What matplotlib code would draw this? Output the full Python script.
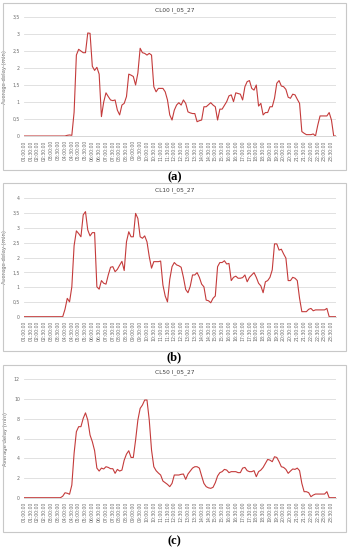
import numpy as np
import matplotlib.pyplot as plt
from matplotlib.patches import Rectangle

# Средняя задержка (мин), шаг 10 минут, с 01:00 до 23:50
cl00 = [0] * 19 + [
    0.02, 0.03, 0.02, 0.7, 2.38, 2.55, 2.5, 2.45, 2.45, 3.03,
    3.02, 2.05, 1.93, 2.02, 1.82, 0.57, 1.0, 1.27, 1.16, 1.06,
    1.04, 1.06, 0.76, 0.62, 0.91, 0.96, 1.16, 1.82, 1.79, 1.75,
    1.5, 1.85, 2.58, 2.45, 2.43, 2.38, 2.43, 2.38, 1.45, 1.3,
    1.4, 1.4, 1.4, 1.3, 1.06, 0.62, 0.47, 0.76, 0.91, 0.98,
    0.91, 1.06, 0.96, 0.71, 0.68, 0.66, 0.66, 0.42, 0.45, 0.47,
    0.86, 0.86, 0.92, 0.98, 0.91, 0.86, 0.47, 0.79, 0.79, 0.9,
    1.01, 1.18, 1.21, 1.01, 1.27, 1.25, 1.23, 1.06, 1.45, 1.6,
    1.63, 1.4, 1.35, 1.5, 0.88, 0.96, 0.62, 0.69, 0.69, 0.86,
    0.86, 1.11, 1.55, 1.63, 1.47, 1.45, 1.37, 1.14, 1.11, 1.23,
    1.21, 1.08, 0.96, 0.13, 0.08, 0.04, 0.04, 0.04, 0.06, 0,
    0.32, 0.59, 0.59, 0.59, 0.59, 0.69, 0.47, 0, 0]

cl10 = [0] * 18 + [
    0.25, 0.62, 0.5, 1.01, 2.4, 2.9, 2.81, 2.7, 3.44, 3.55,
    2.93, 2.73, 2.84, 2.84, 1.01, 0.93, 1.22, 1.13, 1.1, 1.41,
    1.67, 1.69, 1.52, 1.6, 1.74, 1.87, 1.56, 2.53, 2.87, 2.7,
    2.7, 3.49, 3.32, 2.7, 2.65, 2.73, 2.53, 2.03, 1.64, 1.86,
    1.86, 1.86, 1.88, 1.07, 0.7, 0.5, 1.26, 1.69, 1.83, 1.75,
    1.72, 1.67, 1.33, 0.92, 0.81, 1.03, 1.41, 1.41, 1.49, 1.33,
    1.1, 1.01, 0.56, 0.54, 0.47, 0.62, 0.7, 1.69, 1.83, 1.83,
    1.89, 1.78, 1.8, 1.22, 1.33, 1.37, 1.3, 1.3, 1.32, 1.41,
    1.18, 1.33, 1.41, 1.49, 1.33, 1.13, 1.04, 0.81, 1.18, 1.22,
    1.33, 1.58, 2.46, 2.46, 2.25, 2.28, 2.12, 1.98, 1.22, 1.22,
    1.33, 1.3, 1.22, 0.62, 0.17, 0.17, 0.17, 0.25, 0.28, 0.2,
    0.23, 0.23, 0.23, 0.23, 0.23, 0.28, 0, 0, 0, 0]

cl50 = [0] * 17 + [
    0.15, 0.5, 0.45, 0.35, 1.28, 4.5, 6.69, 7.2, 7.2, 8.04,
    8.6, 7.87, 6.35, 5.68, 4.77, 3.0, 2.7, 3.0, 2.91, 3.14,
    3.07, 2.94, 2.94, 2.47, 2.87, 2.7, 2.8, 3.81, 4.42, 4.76,
    4.08, 4.08, 5.84, 7.87, 9.05, 9.39, 9.9, 9.9, 7.87, 4.83,
    3.14, 2.74, 2.5, 2.3, 1.69, 1.52, 1.35, 1.12, 1.45, 2.3,
    2.3, 2.3, 2.37, 2.4, 1.86, 2.4, 2.7, 3.0, 3.14, 3.14,
    3.0, 2.2, 1.45, 1.12, 1.0, 0.95, 1.05, 1.52, 2.2, 2.54,
    2.64, 2.87, 2.8, 2.54, 2.64, 2.64, 2.64, 2.54, 2.54, 3.0,
    3.07, 2.74, 2.64, 2.64, 2.74, 2.13, 2.64, 2.8, 3.07, 3.48,
    3.88, 3.81, 3.65, 4.15, 4.08, 3.65, 3.14, 3.07, 2.87, 2.47,
    2.7, 2.91, 2.87, 3.0, 2.74, 1.45, 0.61, 0.61, 0.51, 0.1,
    0.27, 0.37, 0.37, 0.37, 0.37, 0.37, 0.61, 0, 0, 0, 0]

titles = ['CL00 I_05_27', 'CL10 I_05_27', 'CL50 I_05_27']
letters = ['(a)', '(b)', '(c)']
y_max = [3.5, 4, 12]
y_step = [0.5, 0.5, 2]

# Подписи оси X каждые 30 минут
x_labels = ['%02d:%02d:00' % (h, m) for h in range(1, 24) for m in (0, 30)]

# Положение панелей в пикселях (верх/низ осей, рамка, буква)
px_top = [17, 198.3, 379.3]
px_bot = [136, 316.7, 497.7]
box = [(3, 170), (183, 350.5), (365, 531.5)]
letter_y = [177, 357, 541.5]

W, H = 349, 550
fig = plt.figure(figsize=(W / 100, H / 100), dpi=100)

for k, data in enumerate([cl00, cl10, cl50]):
    # рамка вокруг графика
    b0, b1 = box[k]
    fig.patches.append(Rectangle((3 / W, 1 - b1 / H), 343 / W, (b1 - b0) / H,
                                 transform=fig.transFigure, fill=False,
                                 edgecolor='#c8c8c8', linewidth=0.8))

    ax = fig.add_axes([24 / W, 1 - px_bot[k] / H, 312 / W, (px_bot[k] - px_top[k]) / H])
    x = np.arange(len(data))
    ax.plot(x, data, color='#c43b3b', linewidth=0.8)

    ax.set_xlim(0, len(data) - 1)
    ax.set_ylim(0, y_max[k])
    yt = np.arange(0, y_max[k] + 0.01, y_step[k])
    ax.set_yticks(yt)
    ax.set_yticklabels([('%g' % v).replace('.', ',') for v in yt])
    ax.set_xticks(np.arange(0, len(x_labels) * 3, 3))
    ax.set_xticklabels(x_labels, rotation=90)

    ax.tick_params(axis='both', length=0, colors='#6a6a6a', labelsize=3.3, pad=3)
    ax.grid(axis='y', color='#dcdcdc', linewidth=0.6)
    ax.set_axisbelow(True)
    for s in ['top', 'right', 'left']:
        ax.spines[s].set_visible(False)
    ax.spines['bottom'].set_color('#d0d0d0')
    ax.spines['bottom'].set_linewidth(0.6)

    ax.set_ylabel('Average delay (min)', fontsize=3.8, color='#6a6a6a', labelpad=4)
    fig.text(0.5, 1 - (b0 + 7) / H, titles[k], ha='center', va='center',
             fontsize=4.2, color='#404040')
    fig.text(0.5, 1 - letter_y[k] / H, letters[k], ha='center', va='center',
             fontsize=9, fontweight='bold', family='Liberation Serif')

fig.savefig('out.png', dpi=100)
